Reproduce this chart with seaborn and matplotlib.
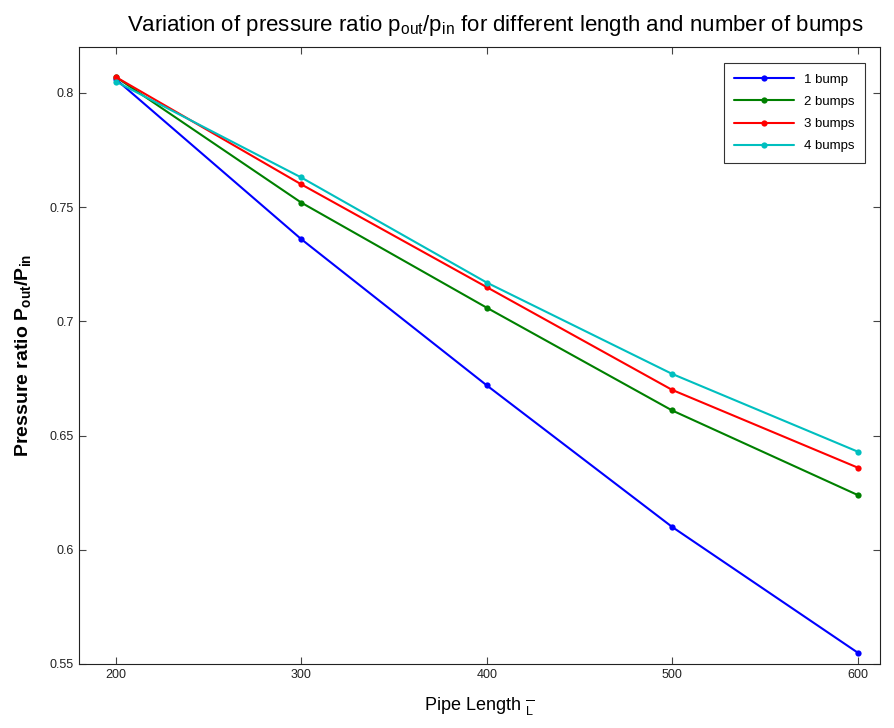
import matplotlib
matplotlib.use("Agg")
import matplotlib.pyplot as plt
import seaborn as sns
import pandas as pd

lengths = [200, 300, 400, 500, 600]
bump_labels = ["1 bump", "2 bumps", "3 bumps", "4 bumps"]
ratio_1 = [0.806, 0.736, 0.672, 0.610, 0.555]
ratio_2 = [0.807, 0.752, 0.706, 0.661, 0.624]
ratio_3 = [0.807, 0.760, 0.715, 0.670, 0.636]
ratio_4 = [0.805, 0.763, 0.717, 0.677, 0.643]
colors = ["#0000ff", "#008000", "#ff0000", "#00bfbf"]

rows = []
for label, vals in zip(bump_labels, [ratio_1, ratio_2, ratio_3, ratio_4]):
    for x, y in zip(lengths, vals):
        rows.append({"length": x, "ratio": y, "bumps": label})
df = pd.DataFrame(rows)

sns.set_style("ticks")
plt.rcParams["font.family"] = ["Liberation Sans", "DejaVu Sans"]
plt.rcParams["mathtext.fontset"] = "custom"
plt.rcParams["mathtext.rm"] = "Liberation Sans"
plt.rcParams["mathtext.it"] = "Liberation Sans"
plt.rcParams["mathtext.bf"] = "Liberation Sans:bold"
plt.rcParams["text.color"] = "black"
plt.rcParams["axes.labelcolor"] = "black"

fig = plt.figure(figsize=(8.95, 7.28), dpi=100)
ax = fig.add_axes([0.088, 0.088, 0.895, 0.847])

sns.lineplot(data=df, x="length", y="ratio", hue="bumps", palette=colors,
             marker="o", markersize=4.5, markeredgewidth=0, linewidth=1.5, ax=ax)

ax.set_xlim(180, 612)
ax.set_ylim(0.55, 0.82)
ax.set_xticks(lengths)
ax.set_yticks([0.55, 0.6, 0.65, 0.7, 0.75, 0.8])
ax.set_yticklabels(["0.55", "0.6", "0.65", "0.7", "0.75", "0.8"])
ax.tick_params(direction="in", top=True, right=True, labelsize=9,
               color="#444444", labelcolor="#222222", length=5)
for s in ax.spines.values():
    s.set_color("#222222")
    s.set_linewidth(0.8)

ax.set_title(r"Variation of pressure ratio p$_{\mathregular{out}}$/p$_{\mathregular{in}}$ for different length and number of bumps",
             fontsize=16, pad=12, x=0.52, color="black")
ax.set_xlabel(r"Pipe Length $^{\overline{\ \ }}_{\mathregular{L}}$", fontsize=13, labelpad=10)
ax.set_ylabel(r"Pressure ratio P$_{\mathregular{out}}$/P$_{\mathregular{in}}$", fontsize=14,
              fontweight="bold", labelpad=12)

leg = ax.legend(loc="upper right", fontsize=9.5, frameon=True, fancybox=False,
                edgecolor="black", borderpad=0.8, handlelength=4.5, labelspacing=0.75,
                bbox_to_anchor=(0.99, 0.985))
leg.get_frame().set_linewidth(0.8)

fig.savefig("out.png", dpi=100)
